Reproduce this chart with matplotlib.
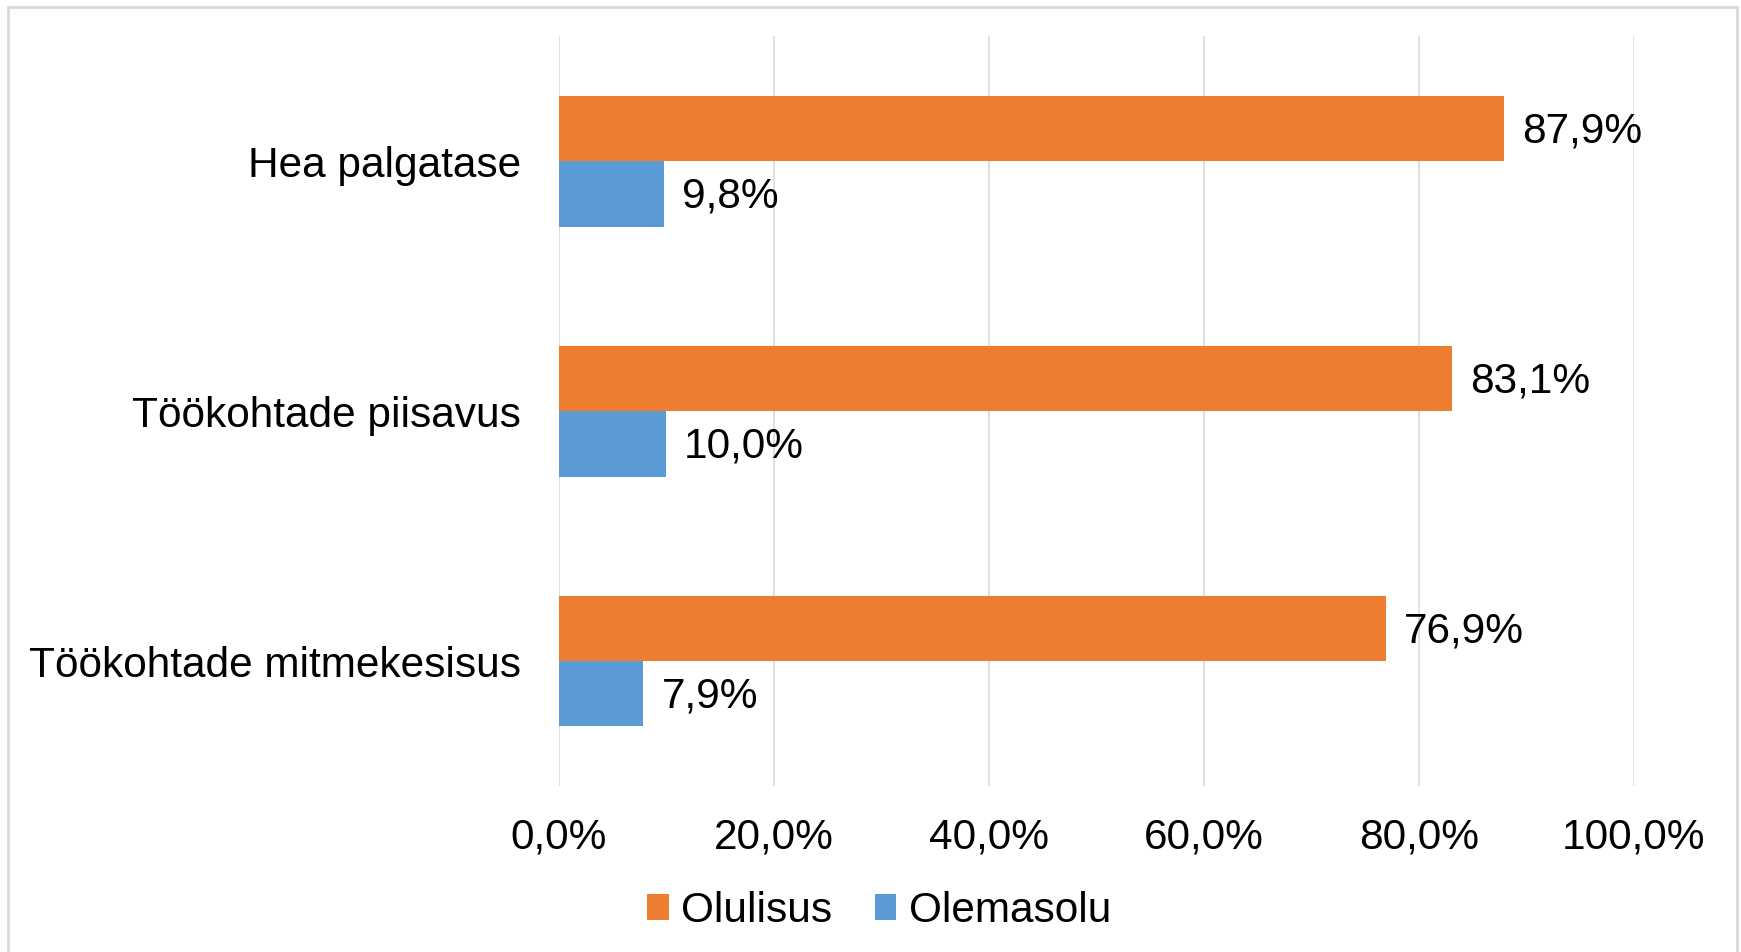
import matplotlib.pyplot as plt
from matplotlib.patches import Rectangle
from matplotlib.ticker import FuncFormatter
import numpy as np

plt.rcParams["font.family"] = ["Liberation Sans", "DejaVu Sans"]

# andmed
kategooriad = ["Hea palgatase", "Töökohtade piisavus", "Töökohtade mitmekesisus"]
olulisus = [87.9, 83.1, 76.9]
olemasolu = [9.8, 10.0, 7.9]
seeriad = ["Olulisus", "Olemasolu"]
x_ticks = [0, 20, 40, 60, 80, 100]

ORANZ = "#ED7D31"
SININE = "#5B9BD5"
HALL = "#D9D9D9"
FS = 30.5

fig = plt.figure(figsize=(17.41, 9.52), dpi=100)
ax = fig.add_axes([0.3208, 0.1744, 0.6177, 0.7876])

y = np.arange(len(kategooriad))
h = 0.262
b1 = ax.barh(y - h / 2, olulisus, height=h, color=ORANZ, label=seeriad[0], zorder=2)
b2 = ax.barh(y + h / 2, olemasolu, height=h, color=SININE, label=seeriad[1], zorder=2)

for bars, vals in ((b1, olulisus), (b2, olemasolu)):
    for bar, v in zip(bars, vals):
        ax.annotate(f"{v:.1f}%".replace(".", ","),
                    (bar.get_width(), bar.get_y() + bar.get_height() / 2),
                    xytext=(13, -2), textcoords="offset points",
                    va="center", ha="left", fontsize=FS)

ax.set_xlim(0, 100)
ax.set_ylim(2.5, -0.5)
ax.set_xticks(x_ticks)
ax.xaxis.set_major_formatter(FuncFormatter(lambda v, p: f"{v:.1f}%".replace(".", ",")))
ax.set_yticks(y)
ax.set_yticklabels(kategooriad)
ax.tick_params(axis="x", length=0, pad=22.5, labelsize=FS)
ax.tick_params(axis="y", length=0, pad=27, labelsize=FS)
ax.grid(axis="x", color=HALL, lw=1.2, zorder=0)
for s in ax.spines.values():
    s.set_visible(False)

fig.legend(handles=[b1, b2], loc="center", bbox_to_anchor=(0.505, 0.043),
           ncol=2, frameon=False, fontsize=FS, handlelength=0.5, handleheight=0.55,
           handletextpad=0.3, columnspacing=1.0)

# raam ümber diagrammi
fig.patches.append(Rectangle((8 / 1741, -0.01), 1729 / 1741, 1 - 7 / 952 + 0.01,
                             transform=fig.transFigure, fill=False,
                             edgecolor=HALL, lw=2))

fig.savefig("out.png", dpi=100)
